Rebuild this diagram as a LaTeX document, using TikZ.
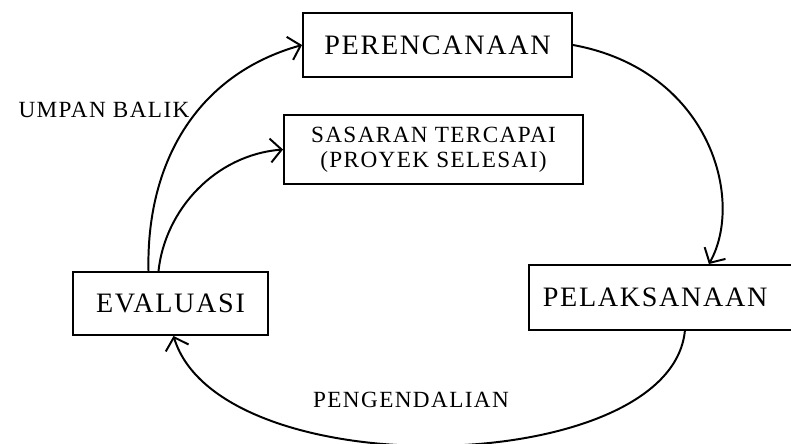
\documentclass[tikz,border=0pt]{standalone}
\usepackage{fontspec}
\setmainfont{Liberation Serif}[LetterSpace=6]
\usetikzlibrary{arrows.meta,calc,positioning}
\tikzset{%
  stage/.style={rectangle,draw=black,line width=1.2pt,inner sep=0pt,font=\fontsize{20}{23}\selectfont},
  note/.style={font=\fontsize{16.5}{18}\selectfont},
  flow/.style={line width=1.4pt,-{Straight Barb[length=8pt,width=17pt,line width=1.4pt]}}%
}

\begin{document}
\begin{tikzpicture}[x=0.025cm,y=-0.025cm]
    \useasboundingbox (0,0) rectangle (791,444);
    \clip (0,0) rectangle (791,444);

    \node (plan) [stage,minimum width=6.73cm,minimum height=1.6cm] at (437.5,45) {PERENCANAAN};
    \node (goal) [stage,note,align=center,minimum width=7.48cm,minimum height=1.73cm] at (433.5,149.5) {SASARAN TERCAPAI\\(PROYEK SELESAI)};
    \node (eval) [stage,minimum width=4.88cm,minimum height=1.58cm] at (170.5,303.5) {EVALUASI};
    \node (exec) [stage,anchor=west,text width=6.5cm,align=left,inner xsep=0.35cm,minimum height=1.63cm] at (528,297.5) {PELAKSANAAN};

    \node (feedback) [note] at (104,110) {UMPAN BALIK};
    \node (control) [note] at (411,400) {PENGENDALIAN};

    \draw[flow] ($(eval.north)+(-22,0)$) .. controls (146,165) and (195,75) .. (plan.west);
    \draw[flow] ($(eval.north)+(-12,0)$) .. controls (165,210) and (215,155) .. (goal.west);
    \draw[flow] (plan.east) .. controls (710,70) and (745,200) .. ($(exec.north)+(36,0)$);
    \draw[flow] ($(exec.south)+(12,0)$) .. controls (670,478) and (220,488) .. ($(eval.south)+(3,0)$);
\end{tikzpicture}
\end{document}
